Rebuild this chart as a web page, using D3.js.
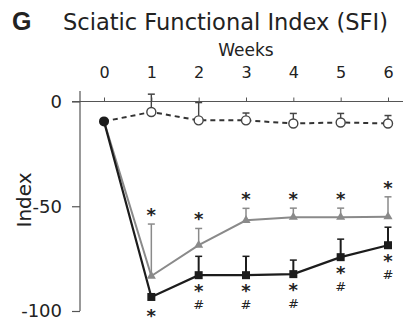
<!DOCTYPE html>
<html>
<head>
<meta charset="utf-8">
<script src="https://cdn.jsdelivr.net/npm/d3@7"></script>
<style>
  body { margin: 0; background: #fff; }
  svg { display: block; }
  text { font-family: "DejaVu Sans", sans-serif; fill: #222; }
</style>
</head>
<body>
<div id="chart"></div>
<script>
// weeks on the top axis
const weeks = [0, 1, 2, 3, 4, 5, 6];
const yTicks = [0, -50, -100];

// sham group (open circles, dashed)
const shamMean = [-9.5, -5, -9, -9, -10.5, -10, -10.5];
const shamErr  = [0, 8.5, 8.5, 3.5, 4.8, 4.3, 3.8];

// gray triangles
const grayMean = [-9.5, -83.3, -68.6, -56.7, -55.2, -55.2, -55];
const grayErr  = [0, 24.8, 8, 5.7, 4.3, 4.3, 9.5];

// black squares
const blackMean = [-9.5, -93.3, -82.9, -82.9, -82.4, -74.3, -68.6];
const blackErr  = [0, 0, 9, 9, 6.7, 8.6, 8.6];

// significance marks per week
const grayStar  = [false, true, true, true, true, true, true];
const blackStar = [false, true, true, true, true, true, true];
const blackHash = [false, false, true, true, true, true, true];

const W = 409, H = 329;
const svg = d3.select("#chart").append("svg")
    .attr("width", W).attr("height", H);

const x = d3.scaleLinear().domain([0, 6]).range([104, 388]);
const y = d3.scaleLinear().domain([0, -100]).range([101.5, 311]);

const black = "#1c1c1c", gray = "#8a8a8a";

// title
svg.append("text").attr("x", 12).attr("y", 30)
    .style("font-family", "Liberation Sans, Arial, sans-serif")
    .style("font-weight", "bold").style("font-size", "25px")
    .text("G");
svg.append("text").attr("x", 63).attr("y", 30)
    .style("font-size", "23px")
    .attr("textLength", 325).attr("lengthAdjust", "spacingAndGlyphs")
    .text("Sciatic Functional Index (SFI)");

svg.append("text").attr("x", 246).attr("y", 56)
    .attr("text-anchor", "middle").style("font-size", "17px")
    .text("Weeks");

// top axis
const xAxis = d3.axisTop(x).tickValues(weeks).tickSize(4).tickPadding(20)
    .tickSizeOuter(0).tickFormat(d3.format("d"));
const gx = svg.append("g").attr("transform", `translate(0,${y(0)})`).call(xAxis);
gx.select(".domain").remove();
gx.selectAll("line").attr("stroke", "#555");
gx.selectAll("text").style("font-size", "16px").attr("fill", "#222");
svg.append("line").attr("x1", 72).attr("x2", 403)
    .attr("y1", y(0)).attr("y2", y(0)).attr("stroke", "#555").attr("stroke-width", 1.2);

// left axis, plain hyphen for negatives
const yAxis = d3.axisLeft(y).tickValues(yTicks).tickSize(8).tickPadding(10)
    .tickSizeOuter(0).tickFormat(d => String(d));
const gy = svg.append("g").attr("transform", "translate(80,0)").call(yAxis);
gy.select(".domain").remove();
gy.selectAll("line").attr("stroke", "#555").attr("stroke-width", 1.2);
gy.selectAll("text").style("font-size", "18px").attr("fill", "#222");
svg.append("line").attr("x1", 80).attr("x2", 80)
    .attr("y1", 91).attr("y2", y(-100)).attr("stroke", "#555").attr("stroke-width", 1.2);

svg.append("text")
    .attr("transform", `translate(31,${y(-47)}) rotate(-90)`)
    .attr("text-anchor", "middle").style("font-size", "20px")
    .text("Index");

// error bars (upward)
function errBars(means, errs, color, w) {
  const g = svg.append("g");
  weeks.forEach((wk, i) => {
    if (!errs[i]) return;
    const top = y(means[i] + errs[i]);
    g.append("line").attr("x1", x(wk)).attr("x2", x(wk))
        .attr("y1", y(means[i])).attr("y2", top)
        .attr("stroke", color).attr("stroke-width", w);
    g.append("line").attr("x1", x(wk) - 3.5).attr("x2", x(wk) + 3.5)
        .attr("y1", top).attr("y2", top)
        .attr("stroke", color).attr("stroke-width", 1.5);
  });
}
errBars(shamMean, shamErr, "#444", 1.4);
errBars(grayMean, grayErr, gray, 1.5);
errBars(blackMean, blackErr, black, 2);

const line = vals => d3.line().x((d, i) => x(weeks[i])).y(d => y(d))(vals);

svg.append("path").attr("d", line(shamMean)).attr("fill", "none")
    .attr("stroke", "#333").attr("stroke-width", 2).attr("stroke-dasharray", "5,4");
svg.append("path").attr("d", line(grayMean)).attr("fill", "none")
    .attr("stroke", gray).attr("stroke-width", 2);
svg.append("path").attr("d", line(blackMean)).attr("fill", "none")
    .attr("stroke", black).attr("stroke-width", 2.2);

// markers
weeks.slice(1).forEach((wk, j) => {
  const i = j + 1;
  svg.append("circle").attr("cx", x(wk)).attr("cy", y(shamMean[i])).attr("r", 4.5)
      .attr("fill", "#fff").attr("stroke", "#444").attr("stroke-width", 1.4);
  svg.append("path")
      .attr("d", d3.symbol(d3.symbolTriangle, 36)())
      .attr("transform", `translate(${x(wk)},${y(grayMean[i])})`)
      .attr("fill", gray);
  svg.append("rect").attr("x", x(wk) - 4).attr("y", y(blackMean[i]) - 4)
      .attr("width", 8).attr("height", 8).attr("fill", black);
});
svg.append("circle").attr("cx", x(0)).attr("cy", y(blackMean[0])).attr("r", 5)
    .attr("fill", black);

// significance marks
weeks.forEach((wk, i) => {
  if (grayStar[i]) {
    svg.append("text").attr("x", x(wk)).attr("y", y(grayMean[i] + grayErr[i]) - 3)
        .attr("text-anchor", "middle").style("font-size", "18px").style("font-weight", "bold")
        .text("*");
  }
  if (blackStar[i]) {
    svg.append("text").attr("x", x(wk)).attr("y", y(blackMean[i]) + (i === 1 ? 25 : 22))
        .attr("text-anchor", "middle").style("font-size", "18px").style("font-weight", "bold")
        .text("*");
  }
  if (blackHash[i]) {
    svg.append("text").attr("x", x(wk)).attr("y", y(blackMean[i]) + 34)
        .attr("text-anchor", "middle").style("font-size", "13px").style("font-style", "italic")
        .text("#");
  }
});
</script>
</body>
</html>
